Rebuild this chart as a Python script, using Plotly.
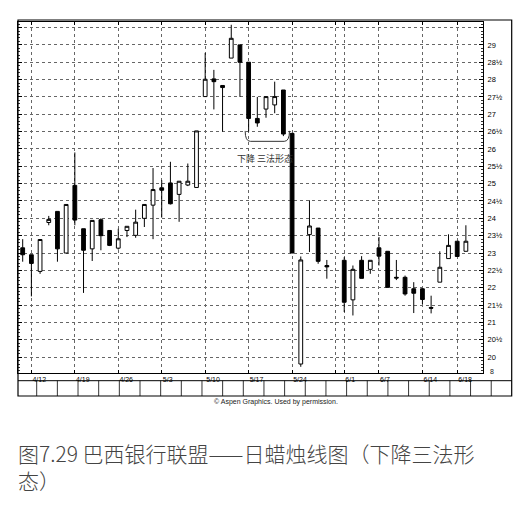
import plotly.graph_objects as go

# ---------------- data ----------------
day_index = [0, 1, 2, 3, 4, 5, 6, 7, 8, 9, 10, 11, 12, 13, 14, 15, 16, 17, 18, 19,
             20, 21, 22, 23, 24, 25, 26, 27, 28, 29, 30, 31, 32, 33, 34, 35,
             37, 38, 39, 40, 41, 42, 43, 44, 45, 46, 47, 48, 49, 50, 51]
opens = [23.15, 22.95, 22.47, 23.88, 24.20, 23.00, 24.95, 23.70, 23.12, 23.96,
         23.65, 23.14, 23.65, 23.51, 24.00, 24.38, 24.88, 25.02, 24.69, 24.96,
         24.89, 27.51, 28.02, 27.83, 28.62, 29.00, 28.50, 26.88, 27.15, 27.27,
         27.70, 26.45, 19.80, 23.53, 23.72, 22.64,
         22.79, 21.65, 22.79, 22.53, 23.15, 23.05, 22.30, 22.30, 21.97, 21.97,
         21.43, 22.16, 22.84, 23.34, 23.05]
highs = [23.40, 22.95, 23.40, 24.07, 24.20, 24.40, 25.90, 23.70, 23.94, 24.00,
         23.65, 23.70, 23.77, 24.25, 24.40, 25.45, 25.10, 25.63, 25.07, 25.58,
         26.52, 28.77, 28.28, 27.83, 29.58, 29.00, 28.50, 27.50, 27.51, 27.94,
         27.70, 26.45, 22.90, 24.52, 23.72, 22.80,
         22.88, 22.64, 22.91, 22.79, 23.46, 23.05, 22.80, 22.35, 22.16, 21.98,
         21.77, 23.05, 23.54, 23.34, 23.80]
lows = [22.75, 21.75, 22.40, 23.80, 22.75, 23.00, 23.80, 21.85, 22.77, 23.08,
        23.20, 23.10, 23.46, 23.44, 23.75, 23.40, 24.02, 24.40, 23.90, 24.93,
        24.89, 27.50, 27.14, 26.50, 28.62, 27.50, 26.50, 26.64, 26.90, 27.03,
        26.37, 23.00, 19.72, 23.03, 22.69, 22.26,
        21.30, 21.20, 22.27, 22.40, 22.64, 22.00, 22.22, 21.77, 21.27, 21.53,
        21.26, 22.16, 22.84, 22.90, 23.05]
closes = [22.95, 22.70, 23.39, 23.97, 23.12, 24.40, 23.95, 23.08, 23.94, 23.50,
          23.22, 23.41, 23.77, 23.89, 24.40, 24.83, 24.81, 24.42, 25.07, 25.07,
          26.52, 28.01, 27.94, 27.77, 29.19, 28.50, 26.88, 26.75, 27.51, 27.51,
          26.43, 23.00, 22.80, 23.78, 22.76, 22.60,
          21.58, 22.53, 22.27, 22.79, 22.91, 22.01, 22.28, 21.82, 21.84, 21.66,
          21.41, 22.59, 23.22, 22.90, 23.34]

week_tick_index = [1, 6, 11, 16, 21, 26, 31, 36, 37, 41, 46, 50]
week_tick_labels = ["4/12", "4/19", "4/26", "5/3", "5/10", "5/17", "5/24", "", "6/1",
                    "6/7", "6/14", "6/18"]

price_ticks = [20, 20.5, 21, 21.5, 22, 22.5, 23, 23.5, 24, 24.5, 25, 25.5,
               26, 26.5, 27, 27.5, 28, 28.5, 29, 29.5]
price_labels = ["20", "20½", "21", "21½", "22", "22½", "23", "23½", "24", "24½",
                "25", "25½", "26", "26½", "27", "27½", "28", "28½", "29", ""]

pattern_label = "下降 三法形态"
pattern_start, pattern_end = 25.6, 30.7
credit = "© Aspen Graphics. Used by permission."
caption_line1 = "图7.29 巴西银行联盟——日蜡烛线图（下降三法形"
caption_line2 = "态）"

# ---------------- figure ----------------
W, H = 523, 505
def px(x):
    return x / W
def py(y):
    return 1 - y / H

PL, PR, PT, PB = 18, 483, 22, 372.7

fig = go.Figure()
fig.add_trace(go.Candlestick(
    x=day_index, open=opens, high=highs, low=lows, close=closes,
    increasing=dict(line=dict(color="black", width=1), fillcolor="white"),
    decreasing=dict(line=dict(color="black", width=1), fillcolor="black"),
    whiskerwidth=0, hoverinfo="skip", showlegend=False,
))

shapes = []
# outer frame
shapes.append(dict(type="rect", xref="paper", yref="paper",
                   x0=px(18), x1=px(511.7), y0=py(20), y1=py(396),
                   line=dict(color="black", width=1.2)))
# x label row bottom line
shapes.append(dict(type="line", xref="paper", yref="paper",
                   x0=px(18), x1=px(511.7), y0=py(380.7), y1=py(380.7),
                   line=dict(color="black", width=1)))
# boxes row dividers
xk = 36.7
while xk < 511:
    shapes.append(dict(type="line", xref="paper", yref="paper",
                       x0=px(xk), x1=px(xk), y0=py(380.7), y1=py(396),
                       line=dict(color="black", width=0.8)))
    xk += 20.66
# brace under the falling three methods pattern
y_top, y_bot = 26.52, 26.22
path = (f"M {pattern_start},{y_top} Q {pattern_start},{y_bot} {pattern_start+0.6},{y_bot} "
        f"L {pattern_end-0.6},{y_bot} Q {pattern_end},{y_bot} {pattern_end},{y_top}")
shapes.append(dict(type="path", xref="x", yref="y", path=path,
                   line=dict(color="#333", width=1)))

cap_font = dict(size=21, color="#444", family="Noto Sans CJK SC", weight=300)
annotations = [
    dict(x=(pattern_start + pattern_end) / 2 - 0.3, y=25.73, xref="x", yref="y",
         text=pattern_label, showarrow=False,
         font=dict(size=9, color="#333333", family="Noto Sans CJK SC")),
    dict(x=px(276), y=py(408), xref="paper", yref="paper", text=credit,
         showarrow=False, font=dict(size=7, color="#222", family="Liberation Sans")),
    dict(x=px(496), y=py(377), xref="paper", yref="paper", text="8",
         showarrow=False, font=dict(size=7, color="#222", family="Liberation Sans")),
    dict(x=px(16), y=py(436), xref="paper", yref="paper",
         text=caption_line1 + "<br>" + caption_line2,
         xanchor="left", yanchor="top", align="left", showarrow=False, font=cap_font),
]

fig.update_layout(
    width=W, height=H, margin=dict(l=0, r=0, t=0, b=0),
    paper_bgcolor="white", plot_bgcolor="white",
    boxgap=0.38,
    shapes=shapes, annotations=annotations,
    xaxis=dict(
        domain=[px(PL), px(PR)], range=[-0.54, 52.97],
        rangeslider=dict(visible=False),
        tickmode="array", tickvals=week_tick_index, ticktext=week_tick_labels,
        ticklabelposition="outside right", ticks="inside", ticklen=3,
        tickcolor="black",
        tickfont=dict(size=7, color="black", family="Liberation Sans"),
        showgrid=True, gridcolor="#666", griddash="dot", gridwidth=1,
        showline=True, linecolor="black", linewidth=1.2, mirror="allticks",
        zeroline=False, fixedrange=True,
    ),
    yaxis=dict(
        domain=[py(PB), py(PT)], range=[19.55, 29.66], side="right",
        tickmode="array", tickvals=price_ticks, ticktext=price_labels,
        ticks="inside", ticklen=4, tickcolor="black",
        minor=dict(ticks="inside", ticklen=2, dtick=0.1, tickcolor="#333", showgrid=False),
        tickfont=dict(size=7.5, color="black", family="Liberation Sans"),
        ticklabelstandoff=2,
        showgrid=True, gridcolor="#666", griddash="dot", gridwidth=1,
        showline=True, linecolor="black", linewidth=1.2, mirror="allticks",
        zeroline=False, fixedrange=True,
    ),
)

fig.write_html("out.html")
